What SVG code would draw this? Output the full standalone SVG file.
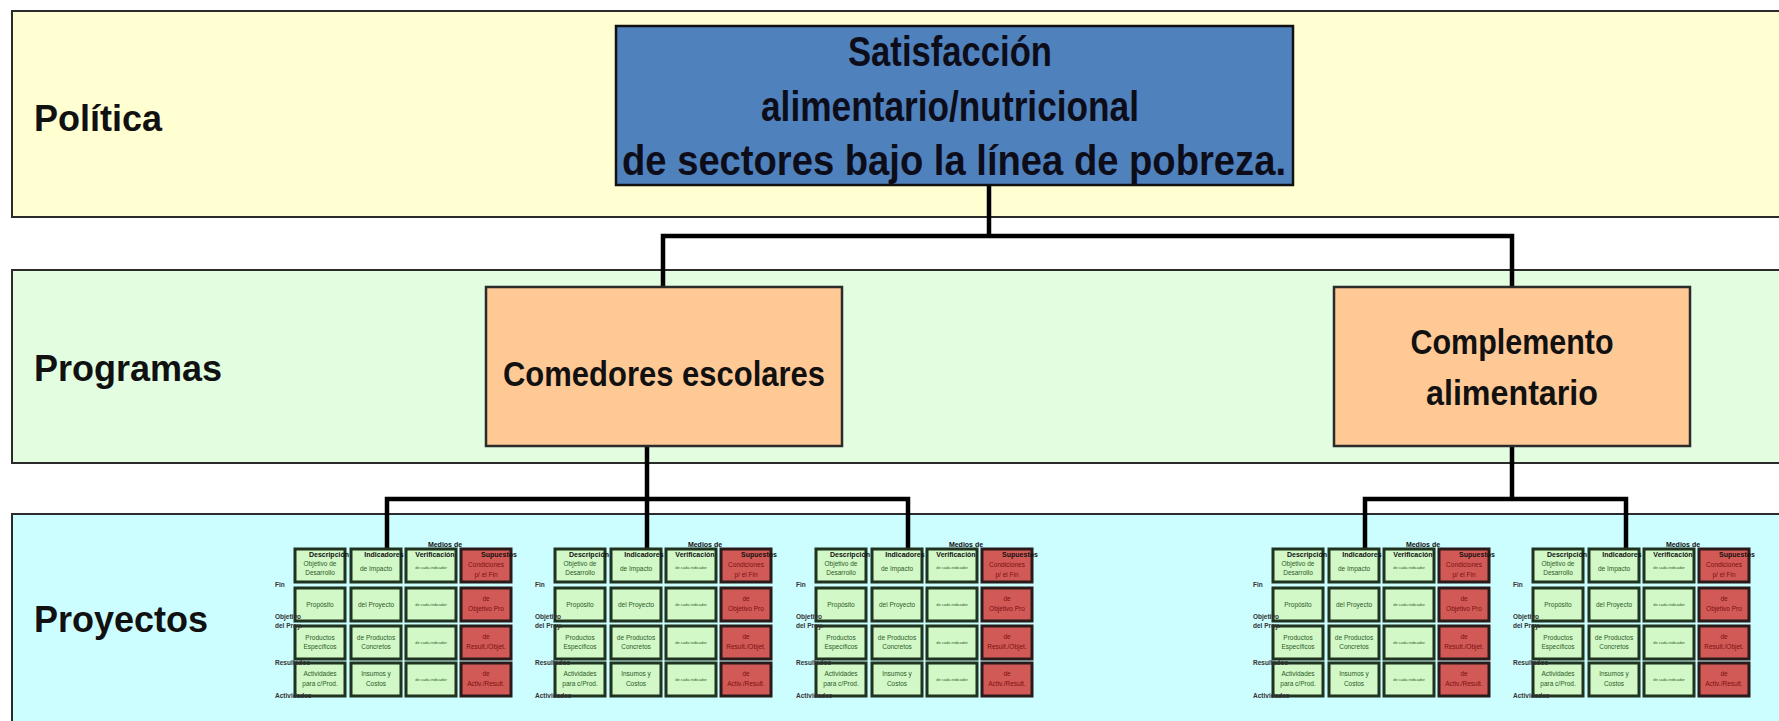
<svg xmlns="http://www.w3.org/2000/svg" width="1779" height="721" viewBox="0 0 1779 721">
<style>
.band{stroke:#2b2b2b;stroke-width:2}
.lbl{font-family:"Liberation Sans",Arial,sans-serif;font-weight:bold;font-size:36px;fill:#111}
.big{font-family:"Liberation Sans",Arial,sans-serif;font-weight:bold;font-size:42px;fill:#0d0d1a;text-anchor:middle}
.prog{font-family:"Liberation Sans",Arial,sans-serif;font-weight:bold;font-size:35px;fill:#111;text-anchor:middle}
.pbox{fill:#FFC996;stroke:#2b2b2b;stroke-width:2.5}
.conn{fill:none;stroke:#000;stroke-width:4.5}
.cg{fill:#D2F8C8;stroke:#1f331f;stroke-width:3}
.cr{fill:#D25A56;stroke:#2a1a1a;stroke-width:3}
.t{font-family:"Liberation Sans",Arial,sans-serif;font-size:6.5px;fill:#2d5a27;text-anchor:middle}
.tr{font-family:"Liberation Sans",Arial,sans-serif;font-size:6.5px;fill:#7a1010;text-anchor:middle}
.ts{font-family:"Liberation Sans",Arial,sans-serif;font-size:4px;fill:#2d5a27;text-anchor:middle}
.h{font-family:"Liberation Sans",Arial,sans-serif;font-size:7px;font-weight:bold;fill:#111;text-anchor:middle}
.rl{font-family:"Liberation Sans",Arial,sans-serif;font-size:6.5px;font-weight:bold;fill:#333}
</style>
<rect width="1779" height="721" fill="#ffffff"/>
<g id="bandas">
<g id="banda-politica"><rect class="band" x="12" y="11" width="1800" height="206" fill="#FFFFD2"/><text class="lbl" x="34" y="131">Política</text></g>
<g id="banda-programas"><rect class="band" x="12" y="270" width="1800" height="193" fill="#E2FDE0"/><text class="lbl" x="34" y="381">Programas</text></g>
<g id="banda-proyectos"><rect class="band" x="12" y="514" width="1800" height="230" fill="#CCFDFF"/><text class="lbl" x="34" y="632">Proyectos</text></g>
</g>
<g id="conectores">
<polyline class="conn" points="989,185 989,236"/>
<polyline class="conn" points="663,287 663,236 1512,236 1512,287"/>
<polyline class="conn" points="647,446 647,549"/>
<polyline class="conn" points="387,549 387,499 908,499 908,549"/>
<polyline class="conn" points="1512,446 1512,499"/>
<polyline class="conn" points="1365,549 1365,499 1626,499 1626,549"/>
</g>
<g id="politica">
<rect x="616" y="26" width="677" height="159" fill="#4F81BD" stroke="#111" stroke-width="2.5"/>
<text class="big" x="950" y="66" textLength="204" lengthAdjust="spacingAndGlyphs">Satisfacción</text>
<text class="big" x="950" y="121" textLength="378" lengthAdjust="spacingAndGlyphs">alimentario/nutricional</text>
<text class="big" x="954" y="175" textLength="664" lengthAdjust="spacingAndGlyphs">de sectores bajo la línea de pobreza.</text>
</g>
<g id="comedores">
<rect class="pbox" x="486" y="287" width="356" height="159"/>
<text class="prog" x="664" y="386" textLength="322" lengthAdjust="spacingAndGlyphs">Comedores escolares</text>
</g>
<g id="complemento">
<rect class="pbox" x="1334" y="287" width="356" height="159"/>
<text class="prog" x="1512" y="354" textLength="203" lengthAdjust="spacingAndGlyphs">Complemento</text>
<text class="prog" x="1512" y="405" textLength="172" lengthAdjust="spacingAndGlyphs">alimentario</text>
</g>
<defs>
<g id="tabla">
<rect class="cg" x="0" y="0" width="50" height="33"/><rect class="cg" x="56" y="0" width="50" height="33"/><rect class="cg" x="111" y="0" width="50" height="33"/><rect class="cr" x="166" y="0" width="50" height="33"/>
<rect class="cg" x="0" y="39" width="50" height="33"/><rect class="cg" x="56" y="39" width="50" height="33"/><rect class="cg" x="111" y="39" width="50" height="33"/><rect class="cr" x="166" y="39" width="50" height="33"/>
<rect class="cg" x="0" y="77" width="50" height="33"/><rect class="cg" x="56" y="77" width="50" height="33"/><rect class="cg" x="111" y="77" width="50" height="33"/><rect class="cr" x="166" y="77" width="50" height="33"/>
<rect class="cg" x="0" y="114" width="50" height="33"/><rect class="cg" x="56" y="114" width="50" height="33"/><rect class="cg" x="111" y="114" width="50" height="33"/><rect class="cr" x="166" y="114" width="50" height="33"/>
<text class="h" x="150" y="-2">Medios de</text>
<text class="h" x="34" y="8">Descripción</text><text class="h" x="89" y="8">Indicadores</text><text class="h" x="140" y="8">Verificación</text><text class="h" x="204" y="8">Supuestos</text>
<text class="t" x="25" y="17">Objetivo de</text><text class="t" x="25" y="26">Desarrollo</text>
<text class="t" x="25" y="58">Propósito</text>
<text class="t" x="25" y="91">Productos</text><text class="t" x="25" y="100">Específicos</text>
<text class="t" x="25" y="127">Actividades</text><text class="t" x="25" y="137">para c/Prod.</text>
<text class="t" x="81" y="22">de Impacto</text>
<text class="t" x="81" y="58">del Proyecto</text>
<text class="t" x="81" y="91">de Productos</text><text class="t" x="81" y="100">Concretos</text>
<text class="t" x="81" y="127">Insumos y</text><text class="t" x="81" y="137">Costos</text>
<text class="ts" x="136" y="20">de cada indicador</text><text class="ts" x="136" y="57">de cada indicador</text><text class="ts" x="136" y="95">de cada indicador</text><text class="ts" x="136" y="132">de cada indicador</text>
<text class="tr" x="191" y="18">Condiciones</text><text class="tr" x="191" y="28">p/ el Fin</text>
<text class="tr" x="191" y="52">de</text><text class="tr" x="191" y="62">Objetivo Pro</text>
<text class="tr" x="191" y="90">de</text><text class="tr" x="191" y="100">Result./Objet.</text>
<text class="tr" x="191" y="127">de</text><text class="tr" x="191" y="137">Activ./Result.</text>
<text class="rl" x="-20" y="38">Fin</text>
<text class="rl" x="-20" y="70">Objetivo</text><text class="rl" x="-20" y="79">del Proy.</text>
<text class="rl" x="-20" y="116">Resultados</text>
<text class="rl" x="-20" y="149">Actividades</text>
</g>
</defs>
<g id="proyecto1"><use href="#tabla" x="295" y="549"/></g>
<g id="proyecto2"><use href="#tabla" x="555" y="549"/></g>
<g id="proyecto3"><use href="#tabla" x="816" y="549"/></g>
<g id="proyecto4"><use href="#tabla" x="1273" y="549"/></g>
<g id="proyecto5"><use href="#tabla" x="1533" y="549"/></g>
</svg>
